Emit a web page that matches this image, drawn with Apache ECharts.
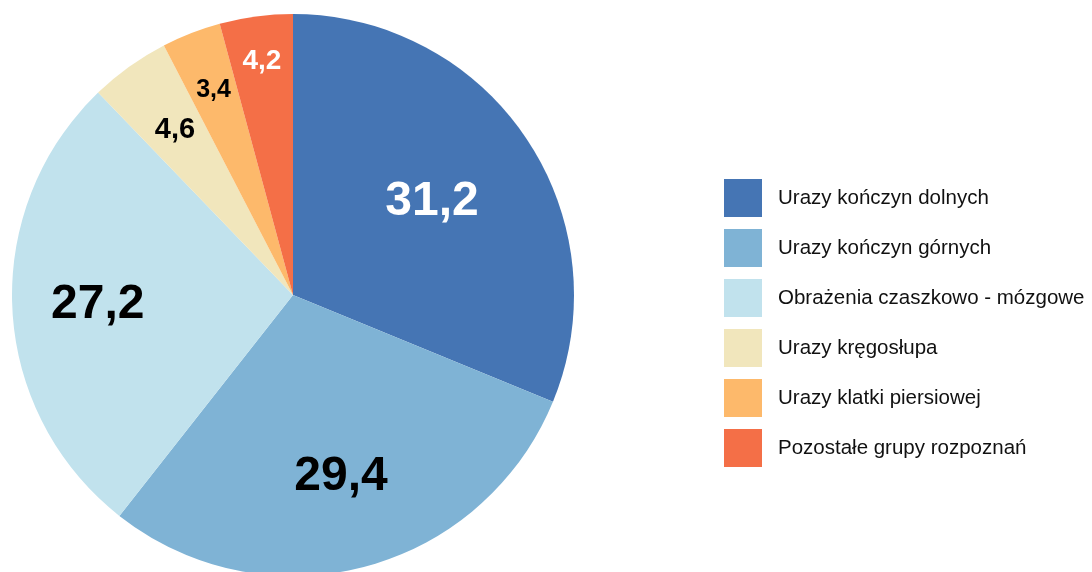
<!DOCTYPE html>
<html>
<head>
<meta charset="utf-8">
<script src="https://cdn.jsdelivr.net/npm/echarts@6/dist/echarts.min.js"></script>
<style>
  html, body { margin: 0; padding: 0; background: #fff; }
  #main { width: 1092px; height: 572px; }
</style>
</head>
<body>
<div id="main"></div>
<script>
// dane
var categories = [
    'Urazy kończyn dolnych',
    'Urazy kończyn górnych',
    'Obrażenia czaszkowo - mózgowe',
    'Urazy kręgosłupa',
    'Urazy klatki piersiowej',
    'Pozostałe grupy rozpoznań'
];
var values = [31.2, 29.4, 27.2, 4.6, 3.4, 4.2];

// styl
var colors = ['#4575b4', '#7fb3d5', '#c1e2ed', '#f1e6bc', '#fdb96b', '#f46f47'];
var labelColors = ['#fff', '#000', '#000', '#000', '#000', '#fff'];
var labelSizes = [48, 48, 48, 29, 25, 28];
var labelRadius = [0.585, 0.66, 0.685, 0.71, 0.77, 0.83]; // część promienia

var R = 281;
var total = values.reduce(function (a, b) { return a + b; }, 0);

var cum = 0;
var pieData = values.map(function (v, i) {
    var mid = (cum + v / 2) / total * Math.PI * 2;
    cum += v;
    var shift = (labelRadius[i] - 0.5) * R;
    return {
        name: categories[i],
        value: v,
        itemStyle: { color: colors[i] },
        label: {
            color: labelColors[i],
            fontSize: labelSizes[i],
            offset: [Math.sin(mid) * shift, -Math.cos(mid) * shift]
        }
    };
});

var chart = echarts.init(document.getElementById('main'));
chart.setOption({
    animation: false,
    backgroundColor: '#fff',
    textStyle: { fontFamily: "'Liberation Sans', Arial, sans-serif" },
    legend: {
        orient: 'vertical',
        left: 724,
        top: 179,
        padding: 0,
        itemWidth: 38,
        itemHeight: 38,
        itemGap: 12,
        icon: 'rect',
        data: categories,
        textStyle: {
            fontFamily: "'Liberation Sans', Arial, sans-serif",
            fontSize: 20.5,
            color: '#111',
            padding: [0, 0, 0, 11]
        }
    },
    series: [
        {
            type: 'pie',
            center: [293, 295],
            radius: R,
            startAngle: 90,
            clockwise: true,
            data: pieData,
            label: {
                position: 'inside',
                fontWeight: 'bold',
                fontFamily: "'Liberation Sans', Arial, sans-serif",
                formatter: function (p) {
                    return String(p.value).replace('.', ',');
                }
            },
            labelLine: { show: false },
            emphasis: { disabled: true }
        }
    ]
});
</script>
</body>
</html>
